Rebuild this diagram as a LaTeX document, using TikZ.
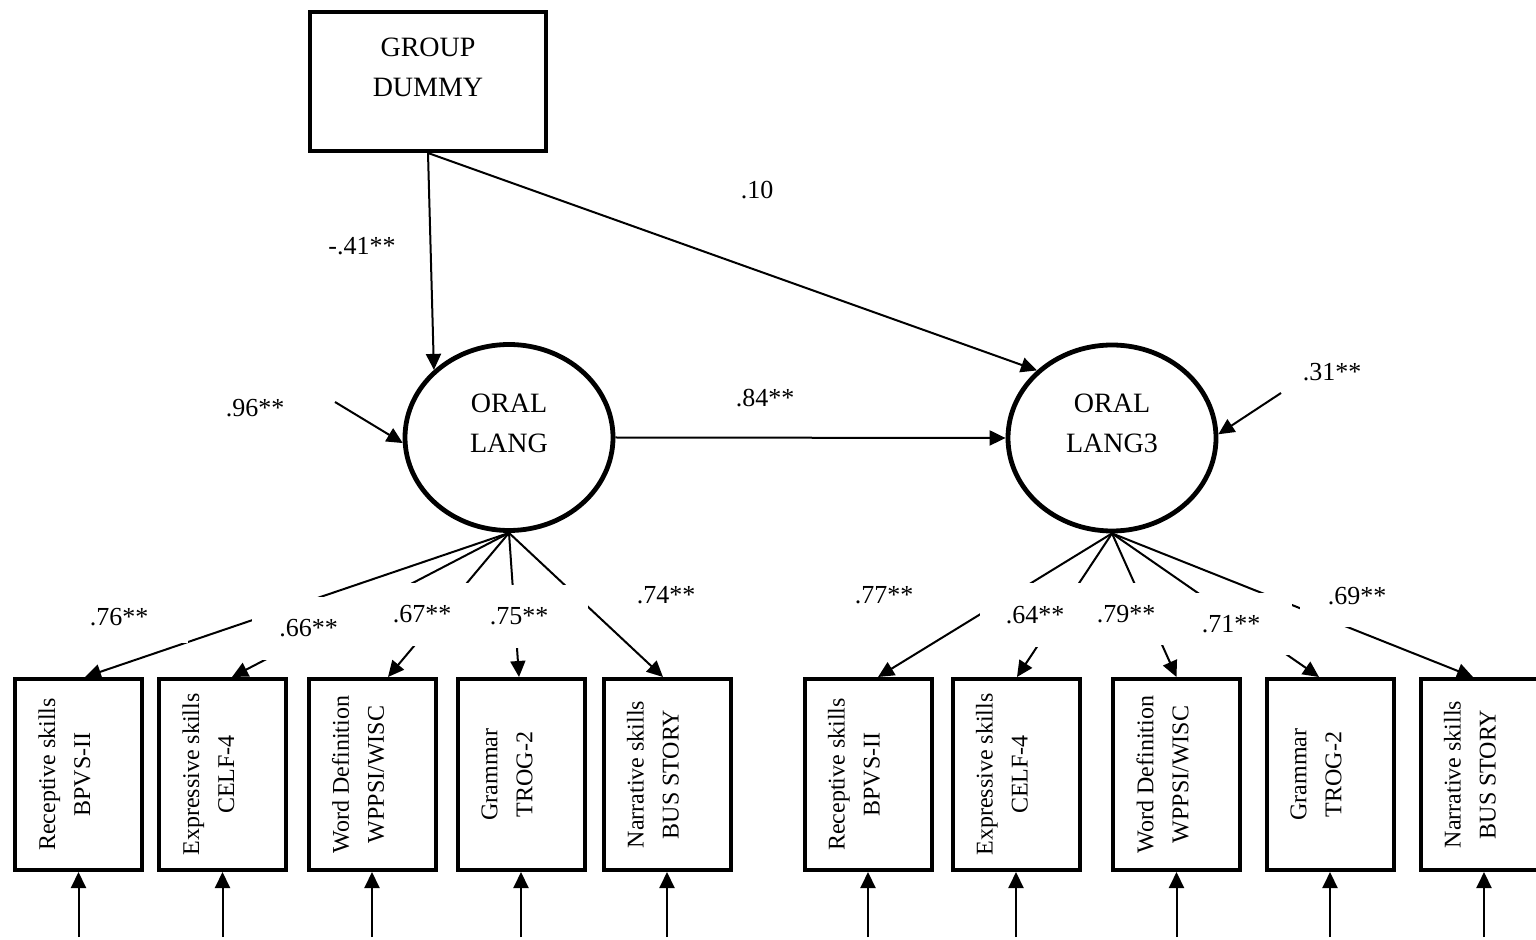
\documentclass[tikz,border=0pt]{standalone}
\usepackage{fontspec}
\setmainfont{Liberation Serif}
\usetikzlibrary{arrows.meta,shapes.geometric}

\begin{document}
\begin{tikzpicture}
[x=0.5pt, y=-0.5pt,
  linedecorate/.style={-{Triangle[length=8pt,width=7.5pt]},line width=1pt},%
  boxdecorate/.style={draw,line width=2pt,minimum width=63.5pt,minimum height=95.5pt,inner sep=0pt},%
  latentdecorate/.style={draw,ellipse,line width=2.4pt,minimum width=104pt,minimum height=93pt,inner sep=0pt},%
  bigtext/.style={font=\fontsize{14}{20}\selectfont,align=center},%
  smalltext/.style={font=\fontsize{12}{17.5}\selectfont,align=center,rotate=90},%
  coeftext/.style={font=\fontsize{13}{15}\selectfont,fill=white,inner sep=0pt}]
\useasboundingbox (0,0) rectangle (1536,940);
\clip (0,0) rectangle (1536,940);
%% top box and latent variables
\node (gd) at (428,81.5) [draw,line width=2pt,minimum width=118pt,minimum height=69.5pt] {};
\node (gdtext) at (428,67) [bigtext] {GROUP\\DUMMY};
\node (ol) at (509,437.5) [latentdecorate] {};
\node (oltext) at (509,423) [bigtext] {ORAL\\LANG};
\node (olthree) at (1112,438) [latentdecorate] {};
\node (olthreetext) at (1112,423) [bigtext] {ORAL\\LANG3};
%% indicator boxes with their error arrows
\foreach \nodename/\x/\first/\second in {r1/78.5/Receptive skills/BPVS-II,
  r2/222.5/Expressive skills/CELF-4, r3/372/Word Definition/{WPPSI/WISC},
  r4/521/Grammar/TROG-2, r5/667/Narrative skills/BUS STORY,
  s1/868/Receptive skills/BPVS-II, s2/1016/Expressive skills/CELF-4,
  s3/1176.5/Word Definition/{WPPSI/WISC}, s4/1330/Grammar/TROG-2,
  s5/1484/Narrative skills/BUS STORY} {
  \node (\nodename) at (\x,774.5) [boxdecorate] {};
  \node (\nodename-t) at (\x-14,774.5) [smalltext] {\first\\\second};
  \coordinate (\nodename-e) at (\x,937);
  \draw[linedecorate] (\nodename-e) -- (\nodename.south);
}
%% structural paths
\coordinate (e96) at (335,402);
\coordinate (e31) at (1281,393);
\draw[linedecorate] (gd.south) -- (ol.138);
\draw[linedecorate] (gd.south) -- (olthree.138);
\draw[linedecorate] (ol.east) -- (olthree.west);
\draw[linedecorate] (e96) -- (ol.183);
\draw[linedecorate] (e31) -- (olthree.2);
%% loadings
\foreach \startnode/\endnode/\dx in {ol/r1/6.5, ol/r2/9.5, ol/r3/16, ol/r4/-2,
  ol/r5/-4, olthree/s1/10, olthree/s2/1, olthree/s3/0, olthree/s4/-11,
  olthree/s5/-11} {
  \draw[linedecorate] (\startnode.south) -- ([xshift=\dx*0.5pt]\endnode.north);
}
%% coefficients
\foreach \nodename/\x/\y/\w/\h/\val in {l41/362/246/0/0/-.41**,
  l10/757/190/0/0/.10, l96/255/408/0/0/.96**, l84/765/398/0/0/.84**,
  l31/1332/372/0/0/.31**, l76/119/617/138/52/.76**,
  l66/308.5/628.5/113/63/.66**, l67/422/614.5/114/63/.67**,
  l75/519/616.5/138/63/.75**, l74/666/595/0/0/.74**,
  l77/884/595/0/0/.77**, l64/1035/615/110/64/.64**,
  l79/1126/614/78/62/.79**, l71/1231/624/122/62/.71**,
  l69/1357/596/115/62/.69**} {
  \node (\nodename) at (\x,\y) [coeftext,minimum width=\w*0.5pt,minimum height=\h*0.5pt] {\val};
}
\end{tikzpicture}
\end{document}
